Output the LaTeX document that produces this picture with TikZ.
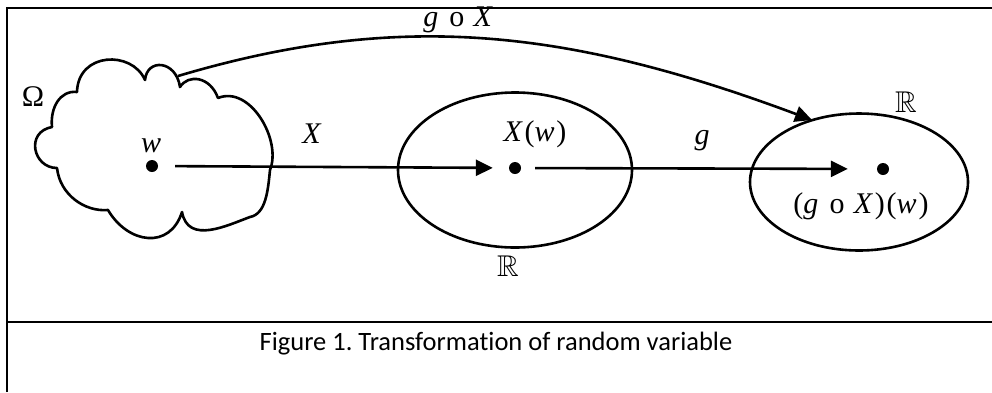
\documentclass[tikz,border=0pt]{standalone}
\usepackage{fontspec}
\setmainfont{Liberation Serif}
\newfontfamily\lblfont[LetterSpace=6]{Liberation Serif}
\newfontfamily\capfont[Ligatures={NoCommon}]{Carlito}
\usepackage{amssymb}
\usetikzlibrary{arrows.meta,shapes.geometric}
\begin{document}
\frenchspacing
\begin{tikzpicture}[x=1pt,y=-1pt,
  lbl/.style={font=\lblfont\fontsize{30}{32}\selectfont, inner sep=0pt},
  dotnode/.style={circle,fill=black,minimum size=12pt,inner sep=0pt},
  ln/.style={line width=2.6pt,line join=round},
  arr/.style={line width=2.6pt,-{Triangle[length=17pt,width=16pt]}},
  setell/.style={ellipse,draw,line width=2.6pt,inner sep=0pt},
  frameline/.style={line width=2pt}]
\useasboundingbox (0,0) rectangle (992,392);
% frame
\draw[frameline] (7,392) -- (7,8) -- (992,8);
\draw[frameline] (7,322) -- (992,322);
% cloud
\draw[ln] (52,127) .. controls (50,108) and (60,90) .. (77,92)
  .. controls (78,52) and (132,50) .. (145,80)
  .. controls (147,58) and (176,60) .. (180,87)
  .. controls (188,74) and (210,76) .. (218,98)
  .. controls (250,85) and (282,140) .. (270,170)
  .. controls (268,190) and (266,214) .. (250,217)
  .. controls (228,225) and (188,245) .. (182,212)
  .. controls (170,250) and (128,244) .. (108,210)
  .. controls (85,212) and (60,195) .. (57,168)
  .. controls (33,168) and (25,132) .. (52,127) -- cycle;
% ellipses
\node[setell,minimum width=234pt,minimum height=155pt] (ell1) at (515,170) {};
\node[setell,minimum width=218pt,minimum height=137pt] (ell2) at (859,182) {};
% dots
\node[dotnode] (w) at (152,166) {};
\node[dotnode] (xw) at (515,168) {};
\node[dotnode] (gxw) at (883,169) {};
% labels
\node[lbl] (lomega) at (33,97) {Ω};
\node[lbl] (lw) at (152,146) {\textit{w}};
\node[lbl] (lX) at (313,134) {\textit{X}};
\node[lbl] (lxw) at (535,134) {\textit{X}(\textit{w})};
\node[lbl] (lR1) at (508,266) {$\mathbb{R}$};
\node[lbl] (lg) at (703,141) {\textit{g}};
\node[lbl] (lgxw) at (861,206) {(\textit{g} o \textit{X})(\textit{w})};
\node[lbl] (lR2) at (906,102) {$\mathbb{R}$};
\node[lbl] (lgoX) at (459,20) {\textit{g} o \textit{X}};
% arrows
\draw[arr,shorten <=17pt,shorten >=16pt] (w) -- (xw);
\draw[arr,shorten <=14pt,shorten >=29pt] (xw) -- (gxw);
\coordinate (cloudtop) at (178,76);
\coordinate (e2hit) at (812,120);
\draw[arr] (cloudtop) .. controls (400,10) and (568,29) .. (e2hit);
% caption
\node[font=\capfont\fontsize{26.5}{28}\selectfont] (cap) at (496,344) {Figure 1. Transformation of random variable};
\end{tikzpicture}
\end{document}
